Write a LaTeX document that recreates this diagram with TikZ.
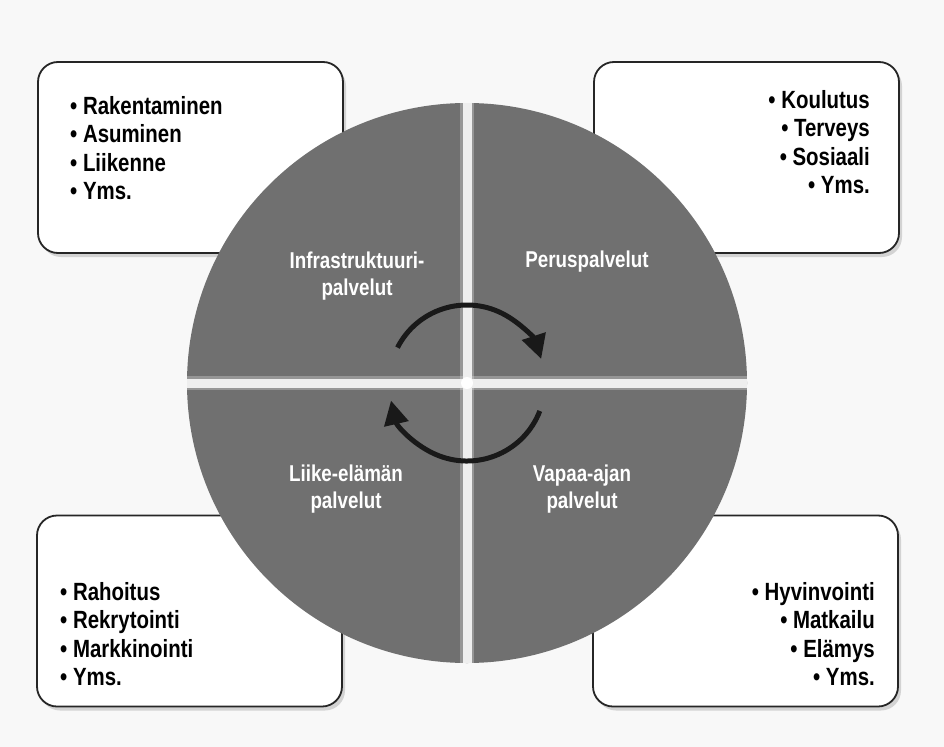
\documentclass[tikz,border=0pt]{standalone}
\usepackage{fontspec}
\setmainfont{Liberation Sans}[FakeStretch=0.82]
\usetikzlibrary{shadows,arrows.meta}
\definecolor{bg}{RGB}{248,248,248}
\definecolor{quad}{RGB}{112,112,112}
\definecolor{gapcol}{RGB}{238,238,238}
\tikzset{
  infobox/.style={draw=black!85, line width=1.8bp, fill=white, rounded corners=20bp,
    minimum width=305bp, minimum height=191bp, inner sep=0pt,
    drop shadow={shadow xshift=3bp, shadow yshift=-4bp, opacity=.3}},
  boxtext/.style={inner sep=0pt, font=\fontsize{25}{28.5}\selectfont\bfseries},
  quadtext/.style={inner sep=0pt, text=white, align=center, font=\fontsize{23}{27}\selectfont\bfseries},
  cyc/.style={line width=5bp, black!90, -{Triangle[length=24bp,width=24bp]}}
}
\begin{document}
\begin{tikzpicture}[x=1bp,y=-1bp]
\useasboundingbox[fill=bg] (0,0) rectangle (944,747);
% boxes
\node[infobox] (tl) at (190.5,157.5) {};
\node[infobox] (tr) at (746.5,157.5) {};
\node[infobox] (bl) at (189.5,611) {};
\node[infobox] (br) at (745.5,611) {};
% box texts
\node[boxtext, anchor=north west, align=left] (tlt) at (70,96)
  {• Rakentaminen\\• Asuminen\\• Liikenne\\• Yms.};
\node[boxtext, anchor=north east, align=right] (trt) at (870,90)
  {• Koulutus\\• Terveys\\• Sosiaali\\• Yms.};
\node[boxtext, anchor=north west, align=left] (blt) at (60,582)
  {• Rahoitus\\• Rekrytointi\\• Markkinointi\\• Yms.};
\node[boxtext, anchor=north east, align=right] (brt) at (875,582)
  {• Hyvinvointi\\• Matkailu\\• Elämys\\• Yms.};
% circle
\coordinate (c) at (467,383);
\fill[quad] (c) circle (280);
\begin{scope}
  \clip (c) circle (280);
  \draw[gapcol, line width=14bp, opacity=.3] ([xshift=-290]c) -- ([xshift=290]c);
  \draw[gapcol, line width=14bp, opacity=.3] ([yshift=-290]c) -- ([yshift=290]c);
  \draw[gapcol, line width=9bp] ([xshift=-290]c) -- ([xshift=290]c);
  \draw[gapcol, line width=9bp] ([yshift=-290]c) -- ([yshift=290]c);
  \fill[white] (c) circle (6);
\end{scope}
% quadrant labels
\node[quadtext] (q1) at (357,276) {Infrastruktuuri-\\palvelut};
\node[quadtext] (q2) at (587,262) {Peruspalvelut};
\node[quadtext] (q3) at (346,489) {Liike-elämän\\palvelut};
\node[quadtext] (q4) at (582,489) {Vapaa-ajan\\palvelut};
% cycle arrows
\draw[cyc] ([shift={(-153:78)}]c) arc[start angle=-153, end angle=-18, radius=78];
\draw[cyc] ([shift={(21:78)}]c) arc[start angle=21, end angle=167, radius=78];
\end{tikzpicture}
\end{document}
